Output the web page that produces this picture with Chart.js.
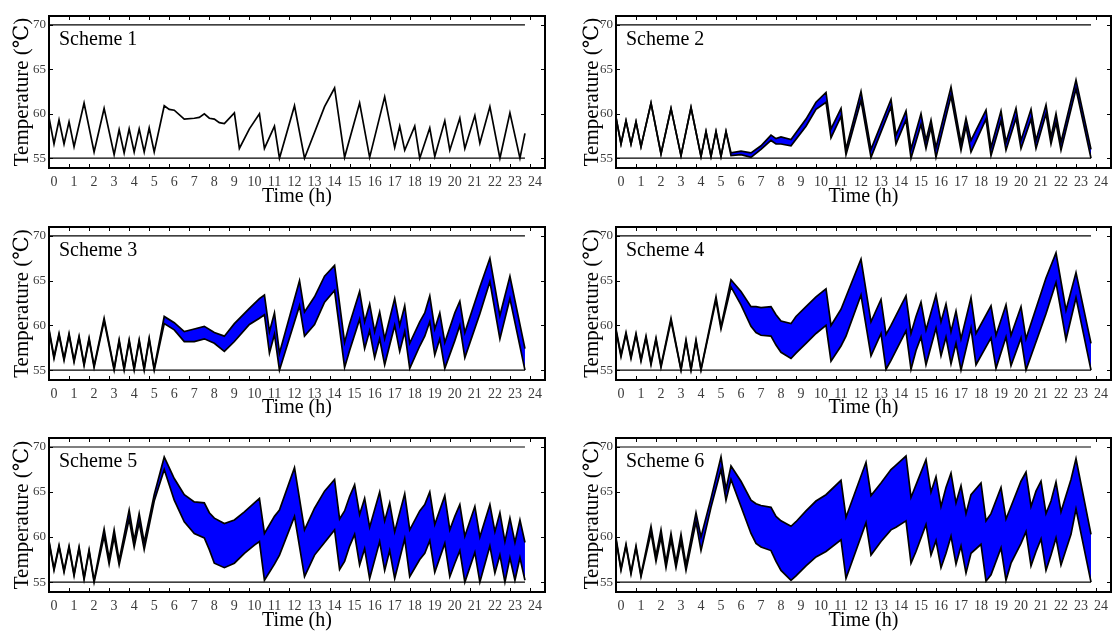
<!DOCTYPE html>
<html>
<head>
<meta charset="utf-8">
<script src="https://cdn.jsdelivr.net/npm/chart.js@4.4.1/dist/chart.umd.min.js"></script>
<style>
    body { margin: 0; background: #fff; width: 1112px; height: 633px; position: relative; overflow: hidden; }
    canvas { position: absolute; }
</style>
</head>
<body>
<canvas id="c1" width="556" height="211" style="left:0;top:0"></canvas>
<canvas id="c2" width="556" height="211" style="left:556px;top:0"></canvas>
<canvas id="c3" width="556" height="211" style="left:0;top:211px"></canvas>
<canvas id="c4" width="556" height="211" style="left:556px;top:211px"></canvas>
<canvas id="c5" width="556" height="211" style="left:0;top:422px"></canvas>
<canvas id="c6" width="556" height="211" style="left:556px;top:422px"></canvas>
<script>
// axis ticks
var hourTicks = [0, 1, 2, 3, 4, 5, 6, 7, 8, 9, 10, 11, 12, 13, 14, 15, 16, 17, 18, 19, 20, 21, 22, 23, 24];
var tempTicks = [55, 60, 65, 70];

// temperature limits
var limitTime = [0, 23.75];
var limitHigh = [70, 70];
var limitLow = [55, 55];

// Scheme 1 (single curve)
var time1 = [0, 0.25, 0.5, 0.75, 1, 1.25, 1.75, 2.25, 2.75, 3.25, 3.5, 3.75, 4, 4.25, 4.5, 4.75, 5, 5.25, 5.75, 6, 6.25, 6.75, 7.25, 7.5, 7.75, 8, 8.25, 8.5, 8.75, 9.25, 9.5, 10, 10.5, 10.75, 11.25, 11.5, 12.25, 12.75, 13.75, 14.25, 14.75, 15.5, 16, 16.75, 17.25, 17.5, 17.75, 18.25, 18.5, 19, 19.25, 19.75, 20, 20.5, 20.75, 21.25, 21.5, 22, 22.5, 23, 23.5, 23.75];
var temp1 = [59.6, 56.6, 59.3, 56.6, 59.1, 56.3, 61.2, 55.7, 60.6, 55.4, 58.2, 55.6, 58.3, 55.7, 58.3, 55.7, 58.4, 55.7, 60.9, 60.5, 60.4, 59.4, 59.5, 59.6, 60.0, 59.5, 59.4, 59.0, 58.9, 60.1, 56.1, 58.3, 60.0, 56.1, 58.6, 55.0, 60.9, 55.0, 60.8, 62.9, 55.1, 61.2, 55.1, 61.9, 56.2, 58.6, 55.9, 58.6, 55.0, 58.4, 55.2, 59.2, 55.9, 59.5, 56.1, 59.8, 56.7, 60.8, 55.0, 60.1, 55.0, 57.8];

// Scheme 2
var time2 = [0, 0.25, 0.5, 0.75, 1, 1.25, 1.75, 2.25, 2.75, 3.25, 3.75, 4.25, 4.5, 4.75, 5, 5.25, 5.5, 5.75, 6.25, 6.75, 7.25, 7.75, 8, 8.25, 8.75, 9.5, 10, 10.5, 10.75, 11.25, 11.5, 12.25, 12.75, 13.75, 14, 14.5, 14.75, 15.25, 15.5, 15.75, 16, 16.75, 17.25, 17.5, 17.75, 18.5, 18.75, 19.25, 19.5, 20, 20.25, 20.75, 21, 21.5, 21.75, 22, 22.25, 23, 23.75];
var upper2 = [59.6, 56.6, 59.2, 56.6, 59.1, 56.3, 61.2, 55.5, 60.6, 55.3, 60.7, 55.2, 58.0, 55.2, 58.0, 55.2, 58.0, 55.6, 55.8, 55.6, 56.4, 57.6, 57.2, 57.4, 57.1, 59.4, 61.3, 62.4, 58.3, 60.6, 56.0, 62.5, 56.0, 61.6, 57.6, 60.3, 56.0, 60.0, 57.0, 59.3, 56.2, 63.0, 56.7, 59.5, 57.0, 60.4, 56.2, 60.3, 56.8, 60.6, 57.0, 60.5, 57.0, 61.0, 57.4, 60.0, 56.8, 63.8, 56.0];
var lower2 = [59.6, 56.6, 59.2, 56.6, 59.1, 56.3, 61.2, 55.5, 60.6, 55.3, 60.7, 55.2, 58.0, 55.2, 58.0, 55.2, 58.0, 55.3, 55.4, 55.1, 56.0, 57.0, 56.6, 56.6, 56.4, 58.6, 60.5, 61.3, 57.3, 59.7, 55.4, 61.5, 55.1, 60.8, 56.6, 59.3, 55.0, 58.8, 56.1, 58.5, 55.1, 62.0, 55.9, 58.6, 55.7, 59.4, 55.3, 59.2, 55.9, 59.5, 56.1, 59.4, 56.1, 60.0, 56.6, 59.0, 55.9, 62.8, 55.0];

// Scheme 3
var time3 = [0, 0.25, 0.5, 0.75, 1, 1.25, 1.5, 1.75, 2, 2.25, 2.75, 3.25, 3.5, 3.75, 4, 4.25, 4.5, 4.75, 5, 5.25, 5.75, 6.25, 6.75, 7.25, 7.75, 8.25, 8.75, 9.25, 10, 10.5, 10.75, 11, 11.25, 11.5, 12.5, 12.75, 13.25, 13.75, 14.25, 14.75, 15, 15.5, 15.75, 16, 16.25, 16.5, 16.75, 17.25, 17.5, 17.75, 18, 18.5, 18.75, 19, 19.25, 19.5, 19.75, 20.25, 20.5, 20.75, 21.5, 22, 22.5, 23, 23.75];
var upper3 = [59.6, 56.5, 59.1, 56.3, 59.1, 56.1, 58.8, 55.7, 58.6, 55.5, 60.8, 55.2, 58.4, 55.2, 58.4, 55.2, 58.4, 55.2, 58.6, 55.2, 61.0, 60.3, 59.3, 59.6, 59.9, 59.2, 58.8, 60.2, 61.9, 63.0, 63.4, 59.3, 61.4, 56.9, 65.0, 61.5, 63.2, 65.5, 66.7, 58.1, 60.2, 63.8, 60.4, 62.4, 59.3, 61.5, 58.5, 63.0, 60.0, 62.2, 58.0, 60.4, 61.4, 63.3, 59.6, 61.4, 58.1, 61.4, 62.7, 59.2, 64.3, 67.5, 61.1, 65.5, 57.4];
var lower3 = [59.4, 56.3, 58.9, 56.1, 58.9, 55.9, 58.6, 55.5, 58.4, 55.3, 60.5, 55.0, 58.2, 55.0, 58.2, 55.0, 58.2, 55.0, 58.4, 55.0, 60.2, 59.5, 58.2, 58.2, 58.5, 58.0, 57.1, 58.2, 60.1, 60.8, 61.2, 56.9, 59.0, 55.0, 62.2, 58.8, 60.1, 62.6, 63.9, 55.3, 57.2, 60.7, 57.4, 59.4, 56.4, 58.5, 55.6, 60.0, 57.1, 59.3, 55.2, 57.7, 58.8, 60.4, 56.7, 58.5, 55.2, 58.3, 60.0, 56.4, 61.3, 64.9, 58.5, 63.0, 55.0];

// Scheme 4
var time4 = [0, 0.25, 0.5, 0.75, 1, 1.25, 1.5, 1.75, 2, 2.25, 2.75, 3.25, 3.5, 3.75, 4, 4.25, 5, 5.25, 5.75, 6.25, 6.75, 7, 7.25, 7.75, 8, 8.25, 8.75, 9, 9.5, 10, 10.5, 10.75, 11.25, 11.5, 12.25, 12.75, 13.25, 13.5, 13.75, 14.5, 14.75, 15, 15.25, 15.5, 16, 16.25, 16.5, 16.75, 17, 17.25, 17.75, 18, 18.75, 19, 19.5, 19.75, 20.25, 20.5, 21.5, 22, 22.5, 23, 23.75];
var upper4 = [59.6, 56.7, 59.2, 56.5, 59.1, 56.2, 58.8, 55.8, 58.6, 55.5, 60.8, 55.1, 58.4, 55.1, 58.4, 55.1, 63.2, 59.9, 65.1, 63.8, 62.1, 62.1, 62.0, 62.1, 61.2, 60.5, 60.2, 61.0, 62.1, 63.2, 64.1, 60.0, 61.8, 63.2, 67.4, 60.4, 62.9, 59.0, 60.0, 63.3, 59.1, 61.0, 62.6, 59.5, 63.4, 60.4, 62.4, 59.3, 61.6, 58.5, 63.1, 59.1, 62.2, 58.9, 62.3, 58.9, 62.1, 58.5, 65.3, 68.1, 61.7, 65.9, 58.0];
var lower4 = [59.4, 56.5, 59.0, 56.3, 58.9, 56.0, 58.6, 55.6, 58.4, 55.3, 60.5, 55.0, 58.2, 55.0, 58.2, 55.0, 62.8, 59.6, 64.3, 62.3, 59.9, 59.2, 58.9, 58.8, 57.8, 57.0, 56.3, 56.9, 58.0, 59.1, 60.0, 56.0, 57.7, 58.8, 63.4, 56.6, 59.1, 55.1, 56.1, 59.4, 55.1, 57.2, 58.7, 55.6, 59.7, 56.6, 58.7, 55.7, 58.0, 55.0, 59.7, 55.6, 58.6, 55.2, 58.7, 55.5, 58.6, 55.0, 61.3, 64.8, 58.4, 63.1, 55.0];

// Scheme 5
var time5 = [0, 0.25, 0.5, 0.75, 1, 1.25, 1.5, 1.75, 2, 2.25, 2.75, 3, 3.25, 3.5, 4, 4.25, 4.5, 4.75, 5.25, 5.75, 6.25, 6.75, 7.25, 7.75, 8, 8.25, 8.75, 9.25, 9.75, 10.25, 10.5, 10.75, 11.25, 11.5, 12.25, 12.75, 13.25, 13.75, 14.25, 14.5, 14.75, 15, 15.25, 15.5, 15.75, 16, 16.5, 16.75, 17, 17.25, 17.75, 18, 18.5, 18.75, 19, 19.25, 19.75, 20, 20.25, 20.5, 20.75, 21.25, 21.5, 22, 22.25, 22.5, 22.75, 23, 23.25, 23.5, 23.75];
var upper5 = [59.6, 56.5, 59.1, 56.3, 59.0, 55.9, 58.9, 55.5, 58.6, 55.2, 60.9, 57.6, 60.8, 57.4, 63.0, 59.6, 62.6, 59.4, 64.7, 68.9, 66.5, 64.7, 63.9, 63.8, 62.7, 62.1, 61.5, 61.9, 62.8, 63.8, 64.3, 60.4, 62.3, 63.0, 67.7, 60.8, 63.2, 65.1, 66.4, 62.0, 62.9, 64.5, 65.8, 62.5, 64.3, 61.1, 65.0, 61.8, 63.8, 60.6, 64.8, 60.8, 62.9, 63.6, 65.0, 61.4, 64.6, 60.8, 62.3, 63.6, 60.1, 63.4, 60.0, 63.6, 60.6, 62.7, 59.5, 62.1, 59.4, 61.9, 59.4];
var lower5 = [59.4, 56.3, 58.9, 56.1, 58.8, 55.7, 58.7, 55.3, 58.4, 55.0, 60.1, 57.0, 60.0, 56.9, 62.0, 58.9, 61.6, 58.6, 64.0, 67.5, 64.1, 61.7, 60.4, 59.9, 58.6, 57.1, 56.6, 57.1, 58.2, 59.1, 59.5, 55.2, 57.0, 58.0, 62.3, 55.6, 58.0, 59.4, 60.8, 56.4, 57.3, 59.0, 60.3, 56.9, 58.7, 55.4, 59.5, 56.3, 58.5, 55.4, 59.8, 55.6, 57.5, 58.2, 59.6, 56.1, 59.3, 55.6, 57.1, 58.5, 55.0, 58.3, 55.0, 59.0, 56.0, 58.0, 55.0, 57.7, 55.2, 57.7, 55.2];

// Scheme 6
var time6 = [0, 0.25, 0.5, 0.75, 1, 1.25, 1.75, 2, 2.25, 2.5, 2.75, 3, 3.25, 3.5, 4, 4.25, 4.75, 5.25, 5.5, 5.75, 6.25, 6.75, 7, 7.25, 7.75, 8, 8.25, 8.75, 9, 9.5, 10, 10.5, 11.25, 11.5, 12.5, 12.75, 13.25, 13.75, 14, 14.5, 14.75, 15, 15.5, 15.75, 16, 16.25, 16.5, 16.75, 17, 17.25, 17.5, 17.75, 18.25, 18.5, 18.75, 19.25, 19.5, 19.75, 20.25, 20.5, 20.75, 21, 21.25, 21.5, 21.75, 22, 22.25, 22.75, 23, 23.75];
var upper6 = [59.9, 56.5, 59.2, 56.1, 59.0, 55.8, 61.2, 57.9, 60.8, 57.2, 60.4, 57.2, 60.3, 56.9, 62.7, 60.0, 64.3, 68.9, 65.3, 67.9, 66.2, 64.1, 63.7, 63.5, 63.3, 62.3, 61.8, 61.2, 61.7, 62.9, 64.0, 64.7, 66.3, 62.2, 68.3, 64.6, 66.0, 67.5, 68.0, 69.0, 64.4, 65.8, 68.6, 65.0, 66.7, 63.4, 65.5, 67.1, 63.8, 65.7, 62.6, 64.7, 66.0, 61.8, 62.6, 65.5, 62.0, 63.4, 66.2, 67.2, 63.4, 65.1, 66.2, 62.6, 64.0, 66.1, 62.8, 66.4, 68.7, 60.3];
var lower6 = [59.7, 56.3, 59.0, 55.9, 58.8, 55.6, 60.5, 57.3, 60.0, 56.6, 59.7, 56.6, 59.5, 56.3, 61.7, 58.5, 63.3, 67.5, 64.1, 66.4, 63.4, 60.4, 59.3, 58.9, 58.5, 57.3, 56.3, 55.2, 55.7, 56.8, 57.8, 58.4, 59.7, 55.4, 61.6, 58.0, 59.5, 60.8, 61.1, 61.8, 57.1, 58.4, 61.4, 58.0, 59.6, 56.6, 58.2, 60.1, 57.0, 59.0, 56.0, 58.2, 59.2, 55.1, 55.8, 58.8, 55.2, 57.1, 59.3, 60.6, 56.8, 58.4, 59.8, 56.3, 58.0, 59.9, 56.9, 60.3, 63.1, 55.0];

var serif = '"Liberation Serif", "DejaVu Serif", serif';

function points(time, values) {
    return time.map(function (t, i) {
        return { x: t, y: values[i] };
    });
}

// box, inward ticks and the scheme name
var framePlugin = {
    id: 'frame',
    afterDraw: function (chart, args, opts) {
        var ctx = chart.ctx;
        var a = chart.chartArea;
        var xs = chart.scales.x;
        var ys = chart.scales.y;
        ctx.save();
        ctx.strokeStyle = '#000';
        ctx.lineWidth = 1;
        ctx.beginPath();
        xs.ticks.forEach(function (t) {
            var px = Math.round(xs.getPixelForValue(t.value)) + 0.5;
            ctx.moveTo(px, a.top);
            ctx.lineTo(px, a.top + 4);
            ctx.moveTo(px, a.bottom);
            ctx.lineTo(px, a.bottom - 4);
        });
        ys.ticks.forEach(function (t) {
            var py = Math.round(ys.getPixelForValue(t.value)) + 0.5;
            ctx.moveTo(a.left, py);
            ctx.lineTo(a.left + 4, py);
            ctx.moveTo(a.right, py);
            ctx.lineTo(a.right - 4, py);
        });
        ctx.stroke();
        ctx.lineWidth = 2;
        ctx.strokeRect(a.left, a.top, a.right - a.left, a.bottom - a.top);
        ctx.fillStyle = '#000';
        ctx.font = '20px ' + serif;
        ctx.textBaseline = 'alphabetic';
        ctx.fillText(opts.label, a.left + 10, a.top + 29);
        ctx.restore();
    }
};

function limitSet(values) {
    return {
        data: points(limitTime, values),
        borderColor: '#000',
        borderWidth: 1.2,
        pointRadius: 0,
        fill: false
    };
}

function makeChart(id, label, time, upper, lower, box) {
    var datasets = [{
        data: points(time, upper),
        borderColor: '#000',
        borderWidth: 1.7,
        backgroundColor: '#0000ff',
        pointRadius: 0,
        fill: lower ? '+1' : false
    }];
    if (lower) {
        datasets.push({
            data: points(time, lower),
            borderColor: '#000',
            borderWidth: 1.7,
            pointRadius: 0,
            fill: false
        });
    }
    datasets.push(limitSet(limitHigh));
    datasets.push(limitSet(limitLow));

    return new Chart(document.getElementById(id), {
        type: 'line',
        data: { datasets: datasets },
        options: {
            responsive: false,
            animation: false,
            elements: { line: { tension: 0 } },
            layout: { padding: { top: 16, right: box.padRight, bottom: 0, left: 0 } },
            plugins: {
                legend: { display: false },
                tooltip: { enabled: false },
                filler: { drawTime: 'beforeDatasetsDraw' },
                frame: { label: label }
            },
            scales: {
                x: {
                    type: 'linear',
                    min: 0,
                    max: 24.75,
                    afterBuildTicks: function (s) {
                        s.ticks = hourTicks.map(function (v) { return { value: v }; });
                    },
                    afterFit: function (s) { s.height = 211 - box.bottom; },
                    grid: { display: false, drawTicks: false },
                    border: { display: false },
                    ticks: {
                        padding: 6,
                        labelOffset: 5,
                        maxRotation: 0,
                        autoSkip: false,
                        color: '#3a3a3a',
                        font: { family: serif, size: 14 }
                    },
                    title: {
                        display: true,
                        text: 'Time (h)',
                        color: '#000',
                        font: { family: serif, size: 20 },
                        padding: { top: 0, bottom: box.xTitlePad }
                    }
                },
                y: {
                    min: 53.9,
                    max: 71,
                    afterBuildTicks: function (s) {
                        s.ticks = tempTicks.map(function (v) { return { value: v }; });
                    },
                    afterFit: function (s) { s.width = box.left; },
                    grid: { display: false, drawTicks: false },
                    border: { display: false },
                    ticks: {
                        padding: 3,
                        color: '#3a3a3a',
                        font: { family: serif, size: 13 }
                    },
                    title: {
                        display: true,
                        text: 'Temperature (℃)',
                        color: '#000',
                        font: { family: serif, size: 21 },
                        padding: { top: box.yTitlePad, bottom: 0 }
                    }
                }
            }
        },
        plugins: [framePlugin]
    });
}

var leftBox = function (bottom, xPad) {
    return { left: 49, padRight: 11, bottom: bottom, xTitlePad: xPad, yTitlePad: 10 };
};
var rightBox = function (bottom, xPad) {
    return { left: 60, padRight: 1, bottom: bottom, xTitlePad: xPad, yTitlePad: 24 };
};

makeChart('c1', 'Scheme 1', time1, temp1, null, leftBox(168, 2));
makeChart('c2', 'Scheme 2', time2, upper2, lower2, rightBox(168, 2));
makeChart('c3', 'Scheme 3', time3, upper3, lower3, leftBox(169, 2));
makeChart('c4', 'Scheme 4', time4, upper4, lower4, rightBox(169, 2));
makeChart('c5', 'Scheme 5', time5, upper5, lower5, leftBox(170, 0));
makeChart('c6', 'Scheme 6', time6, upper6, lower6, rightBox(170, 0));
</script>
</body>
</html>
